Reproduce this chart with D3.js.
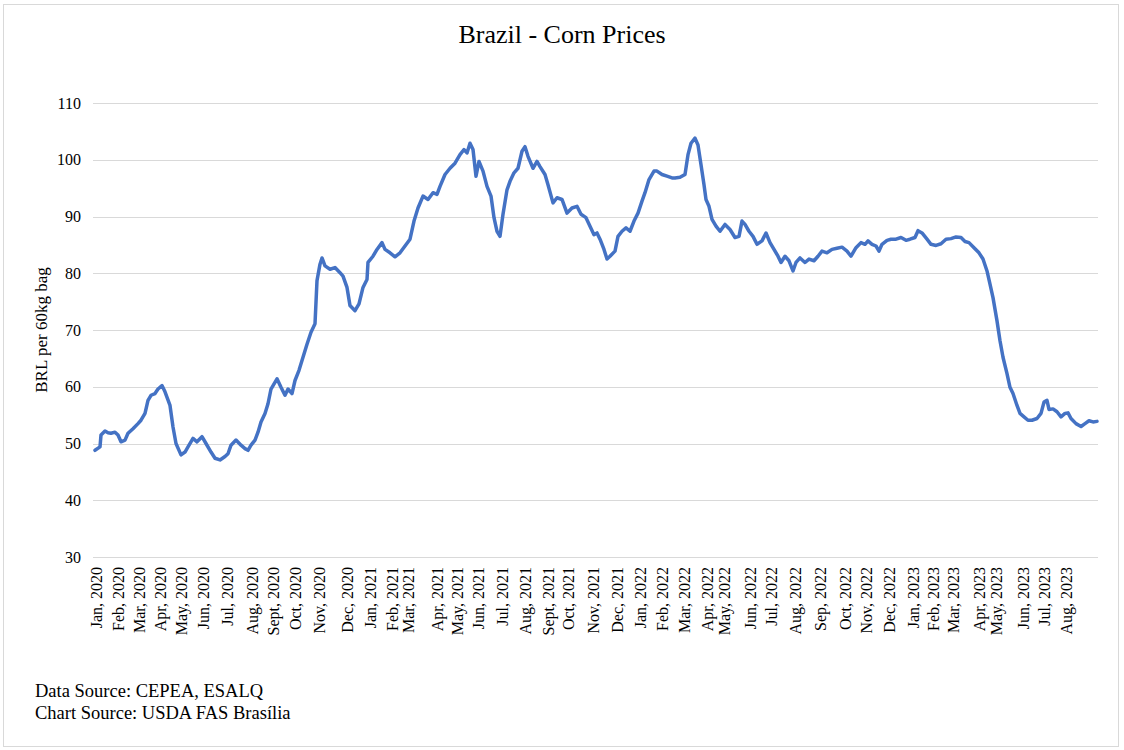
<!DOCTYPE html>
<html>
<head>
<meta charset="utf-8">
<script src="https://cdn.jsdelivr.net/npm/d3@7"></script>
<style>
  body { margin: 0; background: #fff; }
  text { font-family: "Liberation Serif", "Times New Roman", serif; fill: #000; }
</style>
</head>
<body>
<script>
const W = 1124, H = 750

// observation number (trading days since Jan 2020) and price, BRL per 60kg bag
const obs = [0,5,6,10,13,16,20,23,26,30,33,38,43,46,50,53,56,60,63,67,70,75,78,81,86,90,93,98,102,107,111,116,120,125,130,133,136,141,146,150,153,156,160,163,166,170,173,176,182,186,190,193,197,200,204,208,212,216,220,222,225,227,230,235,240,245,248,
  252,255,260,264,268,272,273,278,282,287,290,295,300,305,310,315,319,323,328,333,338,342,345,350,355,360,365,369,372,375,378,381,384,388,392,396,399,402,405,408,412,415,419,423,427,430,433,438,442,445,450,453,458,462,467,472,477,482,486,491,495,499,
  502,505,509,512,515,520,523,527,531,535,539,543,547,550,554,559,562,567,572,577,580,585,590,593,596,600,603,606,609,611,614,617,621,625,630,635,640,644,647,650,654,658,662,667,671,675,679,683,686,690,694,698,701,705,710,714,719,723,727,732,737,742,747,752,
  756,761,766,770,773,777,781,784,787,792,796,801,806,811,815,820,823,827,832,836,841,846,851,856,861,866,870,874,879,884,888,892,895,898,902,905,908,912,915,918,922,925,929,933,937,942,946,949,952,954,958,962,966,970,973,976,981,986,990,994,998,1002]
const price = [48.8,49.4,51.5,52.2,51.9,51.8,52.0,51.5,50.3,50.6,51.8,52.6,53.5,54.1,55.3,57.6,58.5,58.8,59.6,60.2,59.1,56.7,52.9,50.0,48.0,48.5,49.4,50.9,50.3,51.2,50.0,48.5,47.4,47.1,47.7,48.2,49.7,50.6,49.7,49.1,48.8,49.7,50.6,52.0,53.8,55.3,57.0,59.6,61.4,59.9,58.5,59.6,58.8,61.1,62.9,65.2,67.5,69.6,71.1,78.7,81.6,82.7,81.3,80.7,81.0,80.1,79.5,
  77.5,74.3,73.4,74.6,77.5,78.9,81.9,83.0,84.2,85.4,84.2,83.6,82.9,83.6,84.8,86.0,89.2,91.5,93.6,93.0,94.2,93.9,95.3,97.4,98.5,99.4,100.9,101.8,101.2,102.9,101.8,97.1,99.7,98.0,95.3,93.6,89.8,87.4,86.5,90.4,94.7,96.2,97.7,98.5,101.5,102.3,100.6,98.5,99.7,98.8,97.4,95.6,92.4,93.3,93.0,90.6,91.5,91.8,90.4,89.8,88.3,86.8,
  87.1,86.0,84.2,82.5,83.0,83.9,86.5,87.4,88.0,87.4,89.2,90.6,92.7,94.2,96.5,98.0,98.0,97.4,97.1,96.8,96.8,96.9,97.4,100.9,102.9,103.8,102.6,99.1,95.6,93.0,91.8,89.5,88.3,87.4,88.6,87.7,86.3,86.5,89.2,88.6,87.4,86.5,85.1,85.7,87.1,85.4,84.2,83.0,81.9,83.0,82.2,80.4,81.9,82.7,81.9,82.5,82.2,83.0,83.9,83.6,84.2,84.4,84.6,83.9,
  83.0,84.5,85.4,85.1,85.7,85.1,84.8,83.9,85.1,85.8,86.0,86.0,86.3,85.8,86.0,86.3,87.5,87.1,86.0,85.1,84.9,85.2,86.0,86.1,86.4,86.3,85.6,85.4,84.5,83.6,82.5,80.4,78.1,75.7,71.6,68.1,65.2,62.3,59.9,58.8,56.7,55.3,54.7,54.1,54.1,54.4,55.3,57.3,57.6,56.0,56.1,55.6,54.7,55.3,55.4,54.4,53.5,53.0,53.5,54.0,53.8,53.9]

// month labels and the observation each one sits on
const monthLabels = ["Jan, 2020","Feb, 2020","Mar, 2020","Apr, 2020","May, 2020","Jun, 2020","Jul, 2020","Aug, 2020","Sept, 2020","Oct, 2020","Nov, 2020","Dec, 2020",
  "Jan, 2021","Feb, 2021","Mar, 2021","Apr, 2021","May, 2021","Jun, 2021","Jul, 2021","Aug, 2021","Sept, 2021","Oct, 2021","Nov, 2021","Dec, 2021",
  "Jan, 2022","Feb, 2022","Mar, 2022","Apr, 2022","May, 2022","Jun, 2022","Jul, 2022","Aug, 2022","Sep, 2022","Oct, 2022","Nov, 2022","Dec, 2022",
  "Jan, 2023","Feb, 2023","Mar, 2023","Apr, 2023","May, 2023","Jun, 2023","Jul, 2023","Aug, 2023"]
const monthObs = [1,23,44,65,86,108,132,157,178,200,224,252,
  275,297,313,342,362,383,407,430,453,473,498,522,
  545,567,589,612,629,655,676,700,725,750,771,794,
  818,838,858,884,901,928,949,971]
const yTicks = [30,40,50,60,70,80,90,100,110]

const svg = d3.select("body").append("svg")
    .attr("width", W)
    .attr("height", H)

// outer frame
svg.append("rect")
    .attr("x", 3.5).attr("y", 4.5)
    .attr("width", 1115).attr("height", 742)
    .attr("fill", "#fff")
    .attr("stroke", "#d9d9d9")

const plotLeft = 93, plotRight = 1098, plotTop = 103, plotBottom = 557

const x = d3.scaleLinear().domain([0, 1002]).range([95, 1097])
const y = d3.scaleLinear().domain([30, 110]).range([plotBottom, plotTop])

// gridlines
svg.append("g")
    .selectAll("line")
    .data(yTicks)
    .join("line")
    .attr("x1", plotLeft).attr("x2", plotRight)
    .attr("y1", d => Math.round(y(d)) + 0.5)
    .attr("y2", d => Math.round(y(d)) + 0.5)
    .attr("stroke", "#d9d9d9")
    .attr("stroke-width", 1)

// y axis labels
var yAxis = svg.append("g")
    .attr("transform", "translate(" + plotLeft + ",0)")
    .call(d3.axisLeft(y).tickValues(yTicks).tickSize(0).tickPadding(12))
yAxis.select(".domain").remove()
yAxis.selectAll("text")
    .style("font-family", "Liberation Serif")
    .style("font-size", "16px")

// x axis labels, turned on their side
var xAxis = svg.append("g")
    .attr("transform", "translate(0," + plotBottom + ")")
    .call(d3.axisBottom(x).tickValues(monthObs).tickSize(0)
        .tickFormat((d, i) => monthLabels[i]))
xAxis.select(".domain").remove()
xAxis.selectAll("text")
    .style("font-family", "Liberation Serif")
    .style("font-size", "16px")
    .attr("transform", "rotate(-90)")
    .attr("text-anchor", "end")
    .attr("x", -10)
    .attr("y", 0)
    .attr("dy", "0.35em")

// price line
const series = obs.map((d, i) => [d, price[i]])
const line = d3.line()
    .x(d => x(d[0]))
    .y(d => y(d[1]))

svg.append("path")
    .datum(series)
    .attr("fill", "none")
    .attr("stroke", "#4472c4")
    .attr("stroke-width", 3.5)
    .attr("stroke-linejoin", "round")
    .attr("stroke-linecap", "round")
    .attr("d", line)

// titles
svg.append("text")
    .attr("x", 562).attr("y", 43)
    .attr("text-anchor", "middle")
    .style("font-size", "26px")
    .text("Brazil - Corn Prices")

svg.append("text")
    .attr("transform", "translate(47," + ((plotTop + plotBottom) / 2) + ") rotate(-90)")
    .attr("text-anchor", "middle")
    .style("font-size", "17px")
    .text("BRL per 60kg bag")

svg.append("text")
    .attr("x", 35).attr("y", 697)
    .style("font-size", "18.5px")
    .text("Data Source: CEPEA, ESALQ")

svg.append("text")
    .attr("x", 35).attr("y", 719)
    .style("font-size", "18.5px")
    .text("Chart Source: USDA FAS Brasília")
</script>
</body>
</html>
